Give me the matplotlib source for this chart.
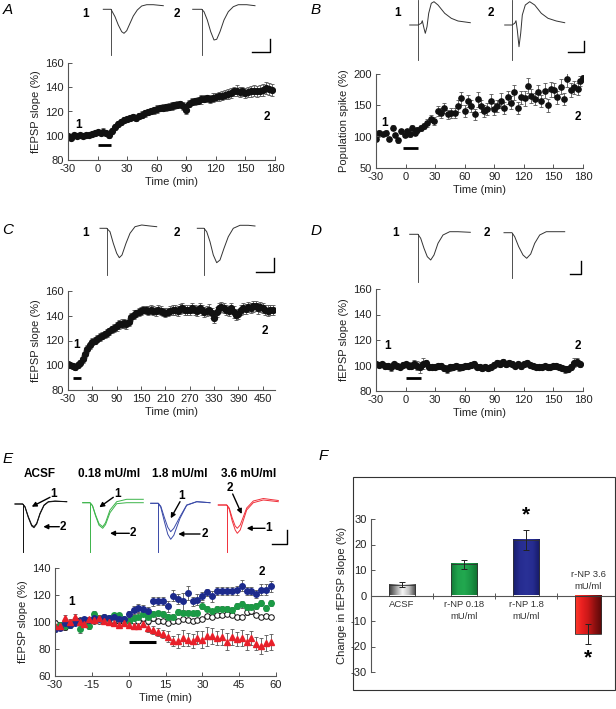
import numpy as np
import matplotlib
matplotlib.use('Agg')
import matplotlib.pyplot as plt
from matplotlib.colors import LinearSegmentedColormap
from matplotlib.patches import Rectangle

plt.rcParams['font.family'] = ['Liberation Sans', 'DejaVu Sans']
plt.rcParams['font.size'] = 8
plt.rcParams['axes.unicode_minus'] = False

W, H = 616, 709

# ---------------- DATA ----------------
# Panel A
A_time = list(range(-30, 180, 3))
A_val = [99.5, 98.5, 100.5, 100, 101, 100, 101, 100.5, 101.5, 102,
         103, 102.5, 103.5, 102, 101, 104, 107, 110, 111, 113,
         114, 114.5, 115.5, 115, 116.5, 117.5, 118.5, 119.5, 120.5, 121,
         122, 122.5, 123, 123.5, 124, 124.5, 125, 125.5, 126, 124.5,
         121, 126.5, 128, 128.5, 129, 130, 130.5, 131, 130.5, 131.5,
         132, 132.5, 133, 134, 134.5, 135.5, 136.5, 137, 136, 136.5,
         135.5, 136, 136.5, 137, 136.5, 137, 138, 139.5, 138.5, 137.5]
A_err = [1.5, 2, 1.5, 1.5, 1.5, 2, 1.5, 1.5, 2, 2,
         2, 2, 2.5, 2, 2.5, 2.5, 2.5, 2.5, 2.5, 2.5,
         2.5, 2.5, 2.5, 2.5, 2.5, 2.5, 3, 2.5, 2.5, 3,
         3, 2.5, 3, 3, 3, 3, 3, 3, 3, 3,
         3, 3, 3, 3, 3, 3.5, 3, 3, 3.5, 3.5,
         3.5, 3.5, 3.5, 3.5, 4, 4, 4, 4.5, 4, 4,
         4, 4, 4.5, 4.5, 4.5, 4.5, 5, 5, 5, 5]

# Panel B
B_time = [-30, -27, -23, -20, -17, -13, -11, -8, -5, -1,
          1, 4, 7, 10, 12, 16, 19, 22, 26, 29,
          33, 36, 39, 43, 46, 50, 53, 56, 60, 63,
          66, 70, 73, 77, 80, 83, 87, 90, 93, 97,
          100, 104, 107, 110, 114, 117, 121, 124, 127, 131,
          134, 137, 141, 144, 148, 151, 154, 158, 161, 164,
          168, 171, 175, 177, 180]
B_val = [96.6, 106, 103.6, 106, 95.6, 114, 102, 94.5, 109, 102,
         109, 103.6, 114, 106, 110.5, 114, 117, 122, 128.8, 125,
         141, 138, 146, 135.7, 138, 138, 149, 161, 141, 157,
         149, 135.7, 160, 149, 141, 144, 157, 144, 149, 157,
         146, 162.5, 154.5, 170.5, 146, 162.5, 161, 181, 165, 160,
         170.5, 157, 173, 150, 176, 175, 162.5, 180, 160, 192,
         175, 178.6, 176, 189, 193]
B_err = [3, 4, 3, 4, 3, 4, 3, 4, 4, 3,
         4, 4, 4, 4, 5, 5, 5, 6, 6, 6,
         8, 8, 8, 7, 8, 8, 9, 10, 9, 10,
         10, 9, 12, 10, 9, 10, 11, 10, 10, 12,
         10, 11, 10, 12, 10, 11, 12, 12, 11, 10,
         12, 10, 12, 10, 12, 11, 10, 12, 10, 12,
         11, 10, 10, 8, 6]

# Panel C
C_time = list(range(-30, 480, 6))
C_val = [101, 100, 99, 98.5, 100, 102,
         105, 109, 113, 116, 119, 120, 121.5, 123, 124, 125,
         126, 127.5, 129, 130, 131.5, 133, 133.5, 134, 133, 135,
         139, 141, 142, 143, 144, 145, 144.5, 144, 145, 144,
         143.5, 145, 144, 143, 142.5, 143, 144, 145, 144.5, 144,
         145.5, 146, 145, 144.5, 145, 146, 145, 144, 146, 145,
         143, 144, 145, 142, 138.5, 143, 146, 147, 146, 145,
         144, 146, 143, 140.5, 141.5, 145, 146, 145.5, 147, 146,
         147.5, 148, 146, 147, 146, 145, 144, 145, 144.5]
C_err = [2, 2, 2, 2, 2.5, 2.5,
         3, 3, 3, 3, 3, 3, 3, 3, 3, 3,
         3, 3, 3, 3.5, 3.5, 3.5, 3.5, 3.5, 3.5, 3.5,
         3.5, 3.5, 3, 3, 3, 3, 3, 3.5, 3.5, 3.5,
         3.5, 3.5, 3.5, 3.5, 3.5, 3.5, 3.5, 4, 4, 4,
         4, 4, 4, 4, 4, 4, 4, 4, 4, 4,
         4, 4, 4.5, 4, 4, 4, 4, 4, 4, 4,
         4, 4, 4.5, 4, 4, 4, 4.5, 4, 4, 4,
         4.5, 4, 4.5, 4, 4, 4, 4.5, 4, 4]

# Panel D
D_time = list(range(-30, 180, 3))
D_val = [101, 100.5, 101, 99.5, 100, 98.5, 101, 100, 99, 100.5,
         101, 100, 99.5, 101, 100, 98.5, 101.5, 102, 99, 98.5,
         99, 100, 99.5, 98, 97.5, 98.5, 99, 100, 98.5, 99,
         99.5, 100, 100.5, 101, 99, 98.5, 98, 99, 98, 99,
         100.5, 102, 101.5, 102.5, 101, 102, 101.5, 100, 101, 99.5,
         101, 102, 100.5, 100, 99, 98.5, 99, 99.5, 98.5, 99,
         99.5, 100, 99, 98, 97, 97.5, 99, 102, 103, 101]
D_err = [1.5, 2, 2, 2, 2, 2.5, 2, 2, 2, 2,
         2, 2.5, 2.5, 3, 3.5, 4, 4, 2.5, 2, 2,
         2, 2, 2.5, 2.5, 3, 2.5, 2, 2, 2.5, 2.5,
         2, 2, 2.5, 2.5, 2, 2, 2, 2.5, 2, 2,
         2, 2.5, 2.5, 2.5, 2.5, 2, 2, 2, 2, 2,
         2, 2, 2, 2, 2, 2, 2, 2, 2, 2,
         2, 2, 2, 2, 2.5, 2.5, 2.5, 3.5, 3, 2]

# Panel E
E_time = list(range(-30, 60, 2))
E_blue = [94.7, 95.9, 99.1, 97.9, 99.6, 101, 102, 101.6, 102.8, 102,
          103.6, 102.8, 104, 102, 102, 105.8, 109, 110.3, 109.5, 107.8,
          115.2, 115.7, 115.7, 111.5, 119.4, 117, 115.2, 121.4, 115.2, 116.5,
          119.4, 121.9, 118.9, 122.7, 122.7, 122.7, 122.7, 123.4, 126.9, 122.7,
          122.7, 120.9, 123.9, 123.9, 126.4]
E_blue_err = [2, 2, 2, 2, 2, 2, 2, 2, 2, 2,
              2, 2, 2, 2, 2, 2, 3, 3, 3, 3,
              3, 3, 3, 4, 4, 4, 6, 5, 3, 4,
              3, 2.5, 4, 3, 3, 3, 3, 3.5, 4, 3,
              3, 3, 4, 4, 4]
E_green = [96, 97.5, 97, 98, 101, 94.5, 101, 97, 106, 103,
           102, 103, 105, 105, 102, 101, 103, 104, 106, 104,
           106, 106.5, 106, 104, 104, 107.5, 107, 107, 106.5, 107,
           112, 110, 108, 110, 110, 109.5, 109, 112, 113, 111,
           111, 112, 114, 110.5, 114]
E_green_err = [2, 2, 2.5, 2, 2, 2.5, 2, 2, 2, 2,
               2, 2, 2, 2, 2, 2, 2, 2.5, 2, 2,
               2, 2, 2, 2, 2, 2, 2, 2, 2, 2,
               2.5, 2, 2, 2, 2, 2, 2, 2, 2.5, 2,
               2, 2, 2, 2, 2.5]
E_acsf = [99.5, 98, 96, 99, 100, 101.5, 100, 101, 100.5, 101,
          101.5, 100, 100.5, 101, 100, 101, 101, 101, 103, 101,
          103, 100.5, 101, 99.5, 101, 100.5, 102, 101.5, 101, 101.5,
          102.5, 104.5, 104, 105, 105, 106, 105, 104, 103.5, 107.5,
          108, 105, 104, 104.5, 103.5]
E_acsf_err = [2, 2, 2, 2, 1.5, 1.5, 1.5, 1.5, 1.5, 1.5,
              1.5, 1.5, 1.5, 1.5, 1.5, 1.5, 1.5, 1.5, 2, 1.5,
              2, 1.5, 1.5, 1.5, 1.5, 1.5, 1.5, 1.5, 1.5, 1.5,
              1.5, 1.5, 1.5, 1.5, 1.5, 1.5, 1.5, 1.5, 1.5, 2,
              2, 1.5, 1.5, 1.5, 1.5]
E_red = [97, 97, 103, 100, 104, 100, 98.5, 102, 101.5, 103,
         101, 100, 99, 98, 99, 98, 97, 97, 98.5, 95.5,
         94, 92.5, 91, 89, 86, 86, 88, 87, 86, 88.5,
         87, 89.5, 89.5, 88, 89, 85.5, 89, 87.5, 88, 85,
         88, 84, 82.5, 84.5, 85]
E_red_err = [2, 2, 2, 2, 2, 2, 2, 2, 2, 2,
             2, 2, 2, 2, 2, 2, 2, 2, 2, 3,
             3, 3, 3, 4, 4, 5, 6, 5, 5, 5,
             6, 7, 6, 5, 6, 6, 6, 5, 6, 6,
             5, 5, 6, 6, 6]

# Panel F
F_cats = ['ACSF', 'r-NP 0.18\nmU/ml', 'r-NP 1.8\nmU/ml', 'r-NP 3.6\nmU/ml']
F_val = [4.2, 12.3, 21.8, -15.2]
F_err = [0.9, 1.8, 4.0, 4.0]

# Recorded waveforms (relative time, amplitude), shapes of the example traces
trA1_t = [-7.7, 0, 4, 7.3, 10.7, 13, 15.7, 19, 22.3, 26.3, 30.7, 35.7, 42.3, 52.3]
trA1_v = [0, 0, -7.4, -15.7, -22.4, -24, -21.4, -14, -6.7, -0.7, 3.3, 4.6, 4.6, 3.6]
trA2_t = [-9, 0, 2.3, 5.6, 9, 12.3, 15, 18.3, 22.3, 26.6, 31.6, 36.6, 45, 53.3]
trA2_v = [0, 0, -2.4, -10.7, -22.4, -30.7, -30, -22.4, -10.7, -2.4, 2.6, 4.6, 4.6, 3.6]
trB1_t = [-8.3, 0, 3.3, 4.3, 6, 7.3, 9, 10.7, 13.3, 16, 20, 26.7, 33.3, 40, 52.3]
trB1_v = [0, 0, 1.7, 4.3, -3.3, -8.3, -1.7, 11.7, 21.7, 23.3, 20, 11.7, 6.7, 4, 2.3]
trB2_t = [-7.3, 0, 2.7, 4, 5.3, 7, 8.7, 10.3, 13.3, 17.7, 22.7, 29.3, 36, 44.3, 52.7]
trB2_v = [0, 0, 1.7, 4.3, -5, -21.7, -8.3, 10, 20, 23.3, 20, 11.7, 6.7, 4, 2.3]
trC1_t = [-6.7, 0, 3.3, 6.6, 10, 12.6, 15.3, 19.3, 23.3, 28.3, 35, 43.3, 50]
trC1_v = [0, 0, -3.4, -15, -25, -29.4, -26.7, -15, -5, 1.6, 3.3, 2.3, 1.6]
trC2_t = [-6.7, 0, 2.7, 6, 9.3, 12.7, 16, 20, 24.3, 29.3, 36, 44.3, 51]
trC2_v = [0, 0, -3.4, -13.4, -26.7, -34.4, -31.7, -20, -8.4, 0, 3, 3, 2.3]
trD1_t = [-8.3, 0, 2.7, 6, 9.3, 12.7, 16, 20, 25, 31.7, 40, 52.3]
trD1_v = [0, 0, -4, -14, -22.4, -25.7, -20.7, -9, -0.7, 2.6, 2.6, 2]
trD2_t = [-8, 0, 2.7, 6.7, 11, 14.7, 18.7, 22.7, 27.7, 34.3, 42.7, 52.7]
trD2_v = [0, 0, -4, -14, -22.3, -25.6, -21.3, -10.6, -2.3, 1, 1, 1]
trE_acsf1_t = [-7.7, 0, 2.3, 5.6, 9, 11.3, 14, 17.3, 21.3, 25.6, 32.3, 44]
trE_acsf1_v = [0, 0, -2.7, -12.7, -21, -22.7, -19.3, -9.3, -1, 2.3, 3, 2.3]
trE_acsf2_t = [-7.7, 0, 2.3, 5.6, 9, 11.3, 14, 17.3, 21.3, 25.6, 32.3, 44]
trE_acsf2_v = [0, 0, -3, -13.5, -22, -23.7, -20, -10, -1.5, 2, 2.7, 2.3]
trE_g1_t = [-7.3, 0, 2.5, 5.5, 9, 12.7, 15.5, 20, 26.7, 36.7, 53.3]
trE_g1_v = [0, 0, -3, -12, -21, -24, -20, -7.3, 1, 3.4, 3.4]
trE_g2_t = [-7.3, 0, 2.5, 5.5, 9, 12.7, 15.5, 20, 26.7, 36.7, 53.3]
trE_g2_v = [0, 0, -3, -13, -22.5, -25.6, -22, -10, -1, 0, 0]
trE_b1_t = [-7.6, 0, 2.5, 6, 9.5, 12.4, 15.5, 21.7, 28.4, 38.4, 51.7]
trE_b1_v = [0, 0, -3, -14, -24, -28.4, -25, -13.4, -1.7, 1.6, 0.6]
trE_b2_t = [-7.6, 0, 2.5, 6, 9.5, 12.4, 15.5, 21.7, 28.4, 38.4, 51.7]
trE_b2_v = [0, 0, -4, -18, -31, -36, -32, -15, -2, 1.6, 0.6]
trE_r1_t = [-8.4, 0, 2.5, 5.5, 8.5, 10.6, 13.5, 20, 26.6, 36.6, 51.6]
trE_r1_v = [0, 0, -4, -16, -25, -28.3, -25, -5, 2.3, 5, 3.3]
trE_r2_t = [-8.4, 0, 2.5, 5.5, 8.5, 10.6, 13.5, 20, 26.6, 36.6, 51.6]
trE_r2_v = [0, 0, -3, -13, -21, -23.3, -20, -3, 4, 6.5, 4.5]

# ---------------- FIGURE ----------------
fig = plt.figure(figsize=(W / 100, H / 100), dpi=100)

SPC = '#555555'


def px_axes(left, top, right, bottom):
    return fig.add_axes([left / W, 1 - bottom / H, (right - left) / W, (bottom - top) / H])


def style(ax):
    for s in ['top', 'right']:
        ax.spines[s].set_visible(False)
    for s in ['left', 'bottom']:
        ax.spines[s].set_color(SPC)
        ax.spines[s].set_linewidth(0.8)
    ax.tick_params(direction='in', length=3, width=0.7, color=SPC, labelsize=8,
                   labelcolor='#222222', pad=3)


def ts_panel(ax, t, v, e, xlim, xticks, ylim, yticks, ylabel, bar, lab1, lab2, ms=4.2):
    ax.errorbar(t, v, yerr=e, fmt='o', ms=ms, mfc='#111111', mec='#111111',
                ecolor='#555555', elinewidth=0.6, capsize=1.5, capthick=0.6)
    ax.set_xlim(*xlim)
    ax.set_ylim(*ylim)
    ax.set_xticks(xticks)
    ax.set_yticks(yticks)
    ax.set_xlabel('Time (min)', labelpad=2, color='#222222')
    ax.set_ylabel(ylabel, labelpad=3, color='#222222')
    ax.plot(bar[0], bar[1], color='k', lw=2, solid_capstyle='butt')
    ax.text(lab1[0], lab1[1], '1', ha='center', va='center', fontsize=8.5, fontweight='bold')
    ax.text(lab2[0], lab2[1], '2', ha='center', va='center', fontsize=8.5, fontweight='bold')
    style(ax)


axA = px_axes(68, 63, 275, 160)
ts_panel(axA, A_time, A_val, A_err, (-30, 180), range(-30, 181, 30), (80, 160),
         range(80, 161, 20), 'fEPSP slope (%)', ([0, 14], [92.5, 92.5]), (-19, 109), (172, 115.5))

axB = px_axes(376, 74, 583, 168)
ts_panel(axB, B_time, B_val, B_err, (-30, 180), range(-30, 181, 30), (50, 200),
         range(50, 201, 50), 'Population spike (%)', ([-3, 13], [82, 82]), (-21, 122), (175, 132),
         ms=3.8)

axC = px_axes(68, 291, 275, 390)
ts_panel(axC, C_time, C_val, C_err, (-30, 480), range(-30, 451, 60), (80, 160),
         range(80, 161, 20), 'fEPSP slope (%)', ([-18, 2], [89.5, 89.5]), (-10, 116), (454, 128))

axD = px_axes(376, 289, 583, 391)
ts_panel(axD, D_time, D_val, D_err, (-30, 180), range(-30, 181, 30), (80, 160),
         range(80, 161, 20), 'fEPSP slope (%)', ([0, 16], [90, 90]), (-18, 115.5), (175, 115.5))

# Panel E
axE = px_axes(55, 568, 276, 676)
kw = dict(elinewidth=0.6, capsize=1.5, capthick=0.6, ecolor='#555555', ms=4.0)
axE.errorbar(E_time, E_acsf, yerr=E_acsf_err, fmt='o', mfc='white', mec='#111111', mew=0.7, **kw)
axE.errorbar(E_time, E_green, yerr=E_green_err, fmt='o', mfc='#1b9a45', mec='#1b9a45', **kw)
axE.errorbar(E_time, E_blue, yerr=E_blue_err, fmt='o', mfc='#1c2a8c', mec='#1c2a8c', **kw)
kw_r = dict(kw)
kw_r['ms'] = 4.4
axE.errorbar(E_time, E_red, yerr=E_red_err, fmt='^', mfc='#e8202a', mec='#e8202a', **kw_r)
axE.set_xlim(-30, 60)
axE.set_ylim(60, 140)
axE.set_xticks(range(-30, 61, 15))
axE.set_yticks(range(60, 141, 20))
axE.set_xlabel('Time (min)', labelpad=2, color='#222222')
axE.set_ylabel('fEPSP slope (%)', labelpad=3, color='#222222')
axE.plot([0, 11], [85, 85], color='k', lw=2.2, solid_capstyle='butt')
axE.text(-23.2, 115, '1', ha='center', va='center', fontsize=8.5, fontweight='bold')
axE.text(54.2, 137, '2', ha='center', va='center', fontsize=8.5, fontweight='bold')
style(axE)

# Panel F
axF = px_axes(371, 519, 616, 672)
F_pos = [0.5, 1.5, 2.5, 3.5]
bw = 0.42
F_cmaps = [
    ['#3a3a3a', '#9a9a9a', '#f7f7f7', '#c0c0c0', '#444444'],
    ['#137a38', '#1fa34c', '#22a84f', '#1a9444', '#10702f'],
    ['#181d6c', '#262c90', '#2a3196', '#262c90', '#161a66'],
    ['#ff3a2a', '#ea2020', '#c81818', '#8a1010', '#5a0808'],
]
grad = np.linspace(0, 1, 64).reshape(1, -1)
for p, v, e, cols in zip(F_pos, F_val, F_err, F_cmaps):
    cm = LinearSegmentedColormap.from_list('g', cols)
    axF.imshow(grad, cmap=cm, aspect='auto', extent=[p - bw / 2, p + bw / 2, 0, v],
               origin='lower', zorder=2)
    axF.bar(p, v, width=bw, fill=False, edgecolor='#333333', lw=0.6, zorder=3)
    axF.errorbar(p, v, yerr=e, fmt='none', ecolor='#222222', elinewidth=0.7,
                 capsize=2.5, capthick=0.7, zorder=4)
axF.set_xlim(0, 3.95)
axF.set_ylim(-30, 30)
axF.set_yticks(range(-30, 31, 10))
axF.set_xticks([0, 1, 2, 3])
axF.set_xticklabels([])
axF.spines['bottom'].set_position(('data', 0))
style(axF)
axF.tick_params(axis='x', direction='inout', length=4)
axF.set_ylabel('Change in fEPSP slope (%)', labelpad=3, color='#222222')
for p, lab, v in zip(F_pos, F_cats, F_val):
    if v >= 0:
        axF.text(p, -1.8, lab, ha='center', va='top', fontsize=6.8, color='#333333',
                 linespacing=1.35)
    else:
        axF.text(p, 1.8, lab, ha='center', va='bottom', fontsize=6.8, color='#333333',
                 linespacing=1.35)
axF.text(2.5, 31.5, '*', ha='center', va='center', fontsize=15, fontweight='bold')
axF.text(3.5, -24.3, '*', ha='center', va='center', fontsize=15, fontweight='bold')

# ---------------- overlay for traces, letters ----------------
ov = fig.add_axes([0, 0, 1, 1], zorder=10)
ov.set_xlim(0, W)
ov.set_ylim(H, 0)
ov.axis('off')
ov.patch.set_alpha(0)


def trace(t, v, x0, y0, art_dn, art_up=0, color='#333333', lw=0.7):
    ov.plot([x0 + a for a in t], [y0 - b for b in v], color=color, lw=lw)
    ov.plot([x0, x0], [y0 - art_up, y0 + art_dn], color=color, lw=0.6)


def lbl(x, y, s, size=8.5):
    ov.text(x, y, s, ha='center', va='center', fontsize=size, fontweight='bold')


TC = '#333333'
# A
trace(trA1_t, trA1_v, 111, 9.3, 45.7, color=TC)
trace(trA2_t, trA2_v, 201.7, 9.3, 45.7, color=TC)
ov.plot([252, 270, 270], [51.7, 51.7, 39.3], color='k', lw=1)
lbl(86, 14, '1'); lbl(177, 14, '2')
# B
trace(trB1_t, trB1_v, 418, 25, 35, 25, color=TC)
trace(trB2_t, trB2_v, 512, 25, 35, 25, color=TC)
ov.plot([568, 584, 584], [52.3, 52.3, 40.7], color='k', lw=1)
lbl(398, 13.3, '1'); lbl(491, 13.3, '2')
# C
trace(trC1_t, trC1_v, 106.7, 228.3, 46.7, color=TC)
trace(trC2_t, trC2_v, 204, 228.3, 46.7, color=TC)
ov.plot([256, 274, 274], [271.7, 271.7, 258.3], color='k', lw=1)
lbl(86, 232.7, '1'); lbl(177, 232.7, '2')
# D
trace(trD1_t, trD1_v, 418, 234.3, 47.4, color=TC)
trace(trD2_t, trD2_v, 512, 232.7, 45.6, color=TC)
ov.plot([569.7, 580.7, 580.7], [274, 274, 260.7], color='k', lw=1)
lbl(396, 233.3, '1'); lbl(487, 233.3, '2')
# E traces
for s, x in zip(['ACSF', '0.18 mU/ml', '1.8 mU/ml', '3.6 mU/ml'], [39.3, 109, 179.3, 248.3]):
    ov.text(x, 474, s, ha='center', va='center', fontsize=8.5, fontweight='bold')
trace(trE_acsf1_t, trE_acsf1_v, 22.7, 504, 47.7, color='#111111')
trace(trE_acsf2_t, trE_acsf2_v, 22.7, 504, 47.7, color='#111111')
trace(trE_g1_t, trE_g1_v, 90, 502.7, 49, color='#3cb44a')
trace(trE_g2_t, trE_g2_v, 90, 502.7, 49, color='#3cb44a')
trace(trE_b1_t, trE_b1_v, 158.3, 503.3, 48.4, color='#3a4aa8')
trace(trE_b2_t, trE_b2_v, 158.3, 503.3, 48.4, color='#3a4aa8')
trace(trE_r1_t, trE_r1_v, 226.7, 505, 46.7, color='#f0303a')
trace(trE_r2_t, trE_r2_v, 226.7, 505, 46.7, color='#f0303a')
ov.plot([271.7, 287.3, 287.3], [544, 544, 530], color='k', lw=1)

arr = dict(arrowstyle='-|>', color='k', lw=1, mutation_scale=7, shrinkA=0, shrinkB=0)
arrows = [((50, 497.3), (31.7, 506.7), (53.3, 494.3), '1'),
          ((59.3, 526.7), (43.3, 526.7), (63.3, 527.3), '2'),
          ((113.3, 497.3), (99.3, 507.3), (117.3, 494), '1'),
          ((129.3, 533.3), (110, 533.3), (133.3, 533.3), '2'),
          ((180, 501.7), (170.7, 518.3), (181.7, 496), '1'),
          ((200, 534), (178.3, 534), (205, 534), '2'),
          ((232.7, 494), (241.7, 514), (230, 488.3), '2'),
          ((265, 528.3), (246.7, 528.3), (268.3, 528.3), '1')]
for start, end, tpos, s in arrows:
    ov.annotate('', xy=end, xytext=start, arrowprops=arr)
    lbl(tpos[0], tpos[1], s)

# panel letters
for s, x, y in [('A', 8, 9.5), ('B', 316, 9.5), ('C', 8, 229.5), ('D', 316, 231),
                ('E', 8, 459), ('F', 323, 456.5)]:
    ov.text(x, y, s, ha='center', va='center', fontsize=11, style='italic')

# frame around F
ov.add_patch(Rectangle((353, 477), 262, 213, fill=False, ec='#333333', lw=0.8))

fig.savefig('out.png', dpi=100)
